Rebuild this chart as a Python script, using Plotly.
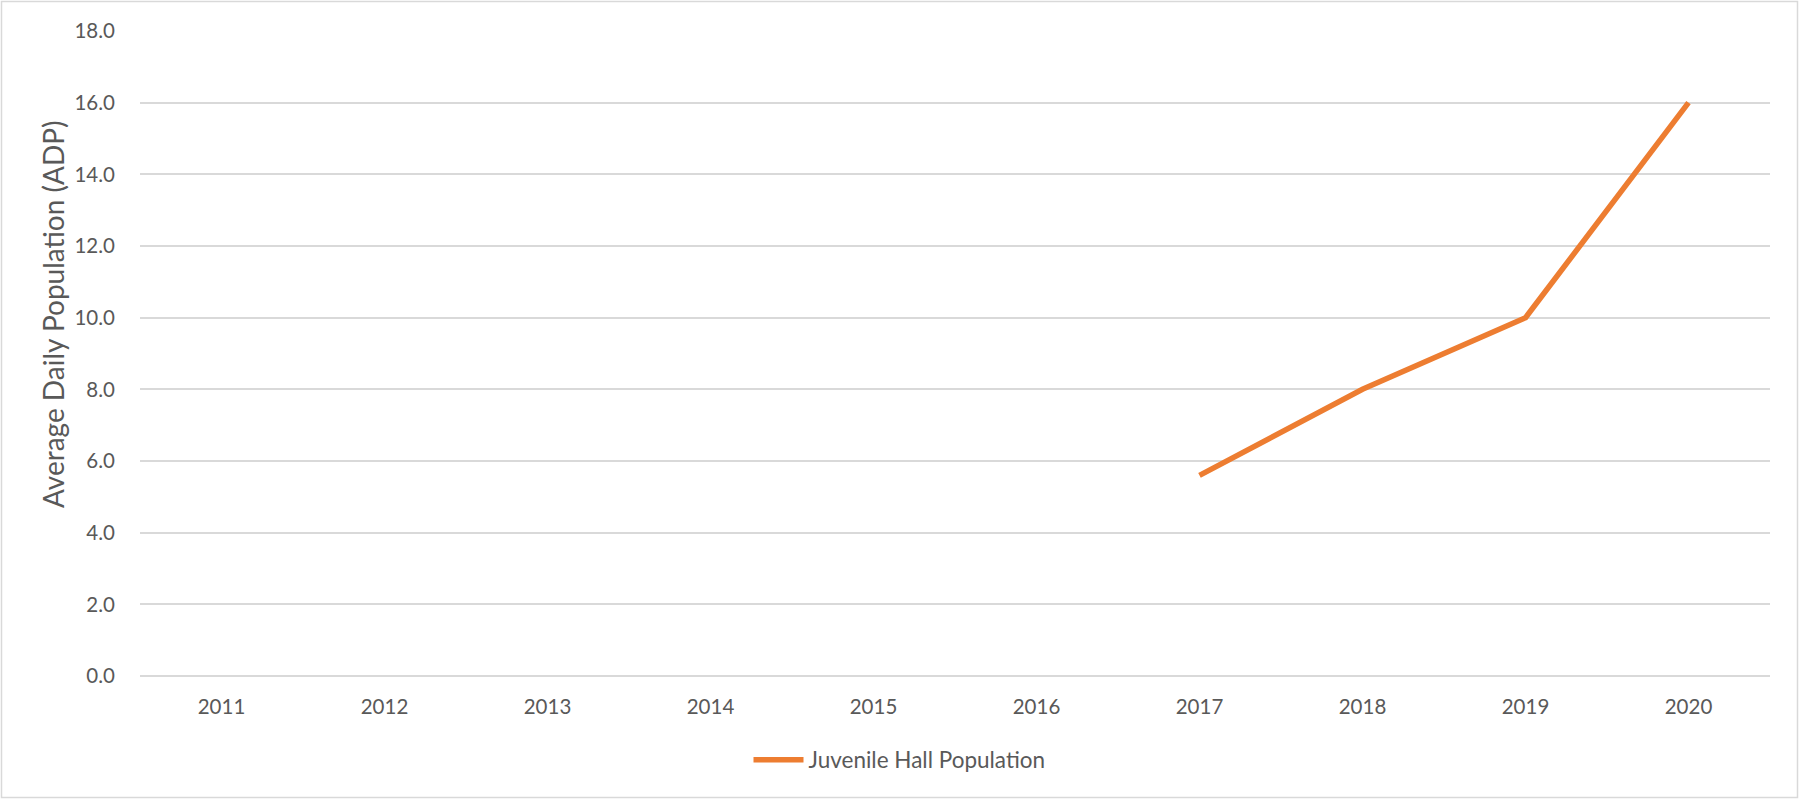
import plotly.graph_objects as go

years = ["2011", "2012", "2013", "2014", "2015", "2016", "2017", "2018", "2019", "2020"]
juvenile_hall = [None, None, None, None, None, None, 5.6, 8.0, 10.0, 16.0]
y_ticks = [0, 2, 4, 6, 8, 10, 12, 14, 16, 18]

W, H = 1799, 799
L, R, T, B = 140, 29, 31, 123
FONT = "Lato"
TXT = "#595959"
GRID = "#d9d9d9"

fig = go.Figure()
fig.add_trace(go.Scatter(
    x=years, y=juvenile_hall, mode="lines",
    name="Juvenile Hall Population",
    line=dict(color="#ED7D31", width=5.5),
    connectgaps=False,
))

pw = W - L - R
ph = H - T - B

fig.update_layout(
    width=W, height=H,
    margin=dict(l=L, r=R, t=T, b=B),
    paper_bgcolor="white", plot_bgcolor="white",
    font=dict(family=FONT, color=TXT, size=20),
    showlegend=True,
    legend=dict(orientation="h", xref="container", yref="container",
                x=0.5, xanchor="center", y=1 - 760 / H, yanchor="middle",
                font=dict(size=22.5, color=TXT), itemwidth=50),
    xaxis=dict(type="category", categoryorder="array", categoryarray=years,
               range=[-0.5, 9.5], showgrid=False, zeroline=False,
               showline=False, ticks="outside", ticklen=12, tickcolor="rgba(0,0,0,0)",
               tickfont=dict(size=20.5, color=TXT)),
    yaxis=dict(range=[0, 18], tickvals=y_ticks, tickformat=".1f",
               showgrid=True, gridcolor=GRID, gridwidth=1.5,
               zeroline=True, zerolinecolor=GRID, zerolinewidth=1.5,
               showline=False, ticks="outside", ticklen=20, tickcolor="rgba(0,0,0,0)",
               tickfont=dict(size=20.5, color=TXT)),
)

fig.add_annotation(
    text="Average Daily Population (ADP)", textangle=-90,
    xref="paper", yref="paper",
    x=(53 - L) / pw, y=(H - B - 315) / ph,
    xanchor="center", yanchor="middle", showarrow=False,
    font=dict(size=28, color=TXT, family=FONT),
)

fig.add_shape(
    type="rect", xref="paper", yref="paper",
    x0=(1.5 - L) / pw, x1=(1797.5 - L) / pw,
    y0=(H - B - 797.5) / ph, y1=(H - B - 1.5) / ph,
    line=dict(color=GRID, width=1.5), fillcolor="rgba(0,0,0,0)", layer="below",
)

fig.write_html("out.html", config={"displayModeBar": False},
               post_script="document.body.style.margin='0';")
